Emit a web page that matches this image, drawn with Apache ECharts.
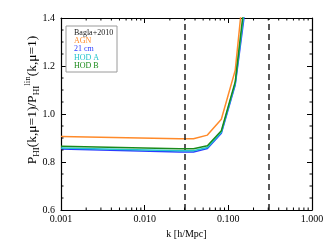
<!DOCTYPE html>
<html>
<head>
<meta charset="utf-8">
<script src="https://cdn.jsdelivr.net/npm/echarts@6/dist/echarts.min.js"></script>
<style>html,body{margin:0;padding:0;background:#fff}#c{width:331px;height:248px}</style>
</head>
<body>
<div id="c"></div>
<script>
const kValues = [0.001, 0.0261, 0.0383, 0.0562, 0.0825, 0.121, 0.178];
const agn  = [0.906, 0.897, 0.897, 0.912, 0.978, 1.183, 1.76];
const cm21 = [0.854, 0.842, 0.842, 0.856, 0.920, 1.122, 1.57];
const hodA = [0.858, 0.847, 0.847, 0.860, 0.924, 1.128, 1.60];
const hodB = [0.866, 0.855, 0.855, 0.868, 0.930, 1.135, 1.64];
const dashedK = [0.03, 0.3];
const xTicks = [0.001, 0.01, 0.1, 1];
const yTicks = [0.6, 0.8, 1.0, 1.2, 1.4];
const xMinorTicks = [0.002,0.003,0.004,0.005,0.006,0.007,0.008,0.009,
                     0.02,0.03,0.04,0.05,0.06,0.07,0.08,0.09,
                     0.2,0.3,0.4,0.5,0.6,0.7,0.8,0.9];
const yMinorTicks = [0.65,0.7,0.75,0.85,0.9,0.95,1.05,1.1,1.15,1.25,1.3,1.35];
const legendLabels = ['Bagla+2010', 'AGN', '21 cm', 'HOD A', 'HOD B'];
const legendColors = ['#222222', '#ff8a2a', '#2a3cff', '#22c4cc', '#1a8a1a'];

const FONT = 'Liberation Serif';
const chart = echarts.init(document.getElementById('c'), null, {renderer: 'canvas'});

function pairs(vals) { return kValues.map((k, i) => [k, vals[i]]); }

const xCommon = {
  type: 'log', logBase: 10, min: xTicks[0], max: xTicks[xTicks.length - 1],
  axisLine: {show: true, lineStyle: {color: '#000', width: 1.2}},
  axisTick: {show: true, inside: true, length: 5, lineStyle: {color: '#000', width: 1}},
  minorTick: {show: false},
  splitLine: {show: false}, minorSplitLine: {show: false}
};
const yCommon = {
  type: 'value', min: yTicks[0], max: yTicks[yTicks.length - 1], interval: 0.2,
  axisLine: {show: true, lineStyle: {color: '#000', width: 1.2}},
  axisTick: {show: true, inside: true, length: 5, lineStyle: {color: '#000', width: 1}},
  minorTick: {show: false},
  splitLine: {show: false}, minorSplitLine: {show: false}
};

function lineSeries(name, vals, color, z) {
  return {
    name, type: 'line', data: pairs(vals), showSymbol: false, symbol: 'none',
    lineStyle: {color, width: 1.5}, itemStyle: {color}, z, clip: true, animation: false
  };
}

const MINOR = 2.5;
function minorTickSeries(values, dim) {
  return {
    type: 'custom', silent: true, z: 10, clip: false,
    data: values.map(v => dim === 'x' ? [v, yTicks[0]] : [xTicks[0], v]),
    renderItem: function (params, api) {
      const cs = params.coordSys;
      const p = api.coord([api.value(0), api.value(1)]);
      const st = {stroke: '#000', lineWidth: 1};
      if (dim === 'x') {
        return {type: 'group', children: [
          {type: 'line', shape: {x1: p[0], y1: cs.y + cs.height, x2: p[0], y2: cs.y + cs.height - MINOR}, style: st},
          {type: 'line', shape: {x1: p[0], y1: cs.y, x2: p[0], y2: cs.y + MINOR}, style: st}
        ]};
      }
      return {type: 'group', children: [
        {type: 'line', shape: {x1: cs.x, y1: p[1], x2: cs.x + MINOR, y2: p[1]}, style: st},
        {type: 'line', shape: {x1: cs.x + cs.width, y1: p[1], x2: cs.x + cs.width - MINOR, y2: p[1]}, style: st}
      ]};
    }
  };
}

const legendGraphics = [{
  type: 'rect', shape: {x: 66, y: 26, width: 51, height: 46},
  style: {fill: '#fff', stroke: '#9a9a9a', lineWidth: 1}, z: 100
}];
legendLabels.forEach((t, i) => {
  legendGraphics.push({
    type: 'text', left: 74, top: 29 + i * 8.2, z: 101,
    style: {text: t, fill: legendColors[i], font: '8px "' + FONT + '"'}
  });
});
legendGraphics.push({
  type: 'text', x: 32, y: 100, rotation: Math.PI / 2, z: 101,
  style: {
    text: '{n|P}{s|HI}{n|(k,μ=1)/P}{s|HI}{p|lin}{n|(k,μ=1)}',
    align: 'center', verticalAlign: 'middle',
    rich: {
      n: {fontFamily: FONT, fontSize: 13.5, fill: '#000', lineHeight: 18},
      s: {fontFamily: FONT, fontSize: 9, fill: '#000', verticalAlign: 'bottom', lineHeight: 18, padding: [7, 0, 0, 0]},
      p: {fontFamily: FONT, fontSize: 9, fill: '#000', verticalAlign: 'top', lineHeight: 18, padding: [0, 0, 7, 0]}
    }
  }
});

chart.setOption({
  animation: false,
  grid: {left: 61, right: 19, top: 18, bottom: 38, containLabel: false},
  xAxis: [
    Object.assign({}, xCommon, {
      position: 'bottom',
      name: 'k [h/Mpc]', nameLocation: 'middle', nameGap: 17,
      nameTextStyle: {fontFamily: FONT, fontSize: 10, color: '#000'},
      axisLabel: {show: true, margin: 4, fontFamily: FONT, fontSize: 10, color: '#000',
        formatter: v => Number(v).toFixed(3)}
    }),
    Object.assign({}, xCommon, {position: 'top', axisLabel: {show: false}})
  ],
  yAxis: [
    Object.assign({}, yCommon, {
      position: 'left',
      axisLabel: {show: true, margin: 6, fontFamily: FONT, fontSize: 10, color: '#000',
        formatter: v => Number(v).toFixed(1)}
    }),
    Object.assign({}, yCommon, {position: 'right', axisLabel: {show: false}})
  ],
  series: [
    Object.assign(lineSeries('AGN', agn, legendColors[1], 2), {
      markLine: {
        silent: true, symbol: 'none', label: {show: false},
        lineStyle: {color: '#222', type: [6, 4], width: 1.5},
        data: dashedK.map(k => ({xAxis: k}))
      }
    }),
    lineSeries('21 cm', cm21, legendColors[2], 3),
    lineSeries('HOD A', hodA, legendColors[3], 4),
    lineSeries('HOD B', hodB, legendColors[4], 5),
    minorTickSeries(xMinorTicks, 'x'),
    minorTickSeries(yMinorTicks, 'y')
  ],
  graphic: legendGraphics
});
</script>
</body>
</html>
